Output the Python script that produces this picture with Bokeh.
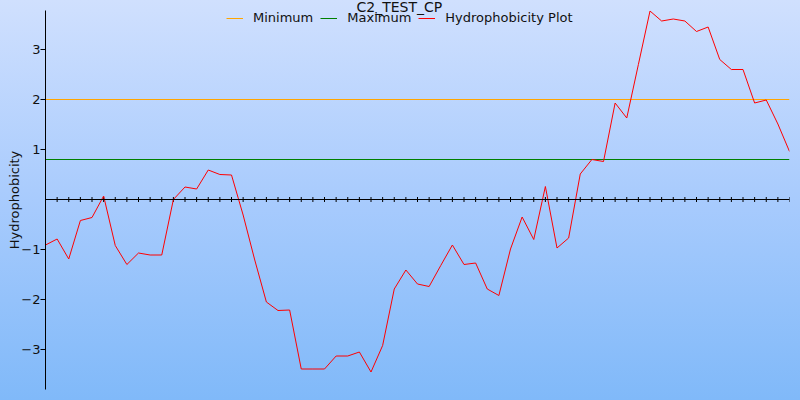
import math
from bokeh.plotting import figure
from bokeh.models import FixedTicker, Range1d, Span, Legend, LegendItem
from bokeh.embed import file_html
from bokeh.resources import INLINE

chart_title = "C2_TEST_CP"
y_axis_title = "Hydrophobicity"
series_names = ["Minimum", "Maximum", "Hydrophobicity Plot"]

positions = list(range(65))
hydrophobicity = [
    -0.91, -0.79, -1.19, -0.42, -0.36, 0.07, -0.92, -1.30, -1.07, -1.11,
    -1.11, 0.00, 0.25, 0.21, 0.59, 0.50, 0.49, -0.31, -1.21, -2.05,
    -2.22, -2.21, -3.39, -3.39, -3.39, -3.13, -3.13, -3.05, -3.45, -2.92,
    -1.79, -1.41, -1.69, -1.74, -1.32, -0.91, -1.30, -1.27, -1.79, -1.92,
    -0.99, -0.35, -0.80, 0.26, -0.97, -0.77, 0.51, 0.80, 0.76, 1.93,
    1.63, 2.70, 3.77, 3.57, 3.61, 3.57, 3.36, 3.45, 2.80, 2.60,
    2.60, 1.93, 1.99, 1.51, 0.96,
]
minimum_level = 2.0
maximum_level = 0.8
baseline_level = 0.0
y_ticks = [-3, -2, -1, 1, 2, 3]
y_lower = -3.80
y_upper = 3.78

FONT = "DejaVu Sans"
TEXT = "#111111"

p = figure(
    width=800, height=400, output_backend="svg", toolbar_location=None,
    title=chart_title,
    x_range=Range1d(positions[0], positions[-1]),
    y_range=Range1d(y_lower, y_upper),
    x_axis_location=None, y_axis_location="left",
    min_border_left=45, min_border_right=11, min_border_top=10, min_border_bottom=11,
)
p.background_fill_alpha = 0
p.border_fill_alpha = 0
p.outline_line_color = None
p.styles = {"background": "linear-gradient(180deg, #d0e0fe 0%, #a8cbfd 50%, #80b9f9 100%)"}
p.grid.grid_line_color = None

p.title.text_font = FONT
p.title.text_font_size = "14px"
p.title.text_font_style = "normal"
p.title.text_color = TEXT
p.title.align = "left"
p.title.offset = 311
p.title.standoff = -11
p.title.vertical_align = "middle"

yax = p.yaxis[0]
yax.ticker = FixedTicker(ticks=y_ticks)
yax.axis_label = y_axis_title
yax.axis_label_text_font = FONT
yax.axis_label_text_font_size = "13px"
yax.axis_label_text_font_style = "normal"
yax.axis_label_text_color = TEXT
yax.axis_label_standoff = -4
yax.major_label_text_font = FONT
yax.major_label_text_font_size = "13px"
yax.major_label_text_color = TEXT
yax.major_label_standoff = 0
yax.major_tick_in = 0
yax.major_tick_out = 5
yax.minor_tick_in = 0
yax.minor_tick_out = 0
yax.axis_line_color = "black"
yax.major_tick_line_color = "black"

# horizontal axis through zero with a tick at every position
p.add_layout(Span(location=baseline_level, dimension="width", line_color="black", line_width=1))
p.scatter(positions, [baseline_level] * len(positions), marker="dash", angle=math.pi / 2,
          size=5, line_color="black", line_width=1)

ends = [positions[0], positions[-1]]
r_min = p.line(ends, [minimum_level, minimum_level], line_color="#ffa500", line_width=1)
r_max = p.line(ends, [maximum_level, maximum_level], line_color="#008000", line_width=1)
r_hyd = p.line(positions, hydrophobicity, line_color="#ff0000", line_width=1)

series_legend = Legend(
    items=[LegendItem(label=series_names[0], renderers=[r_min]),
           LegendItem(label=series_names[1], renderers=[r_max]),
           LegendItem(label=series_names[2], renderers=[r_hyd])],
    orientation="horizontal", location=(181, 361.5),
    background_fill_alpha=0, border_line_color=None,
    label_text_font=FONT, label_text_font_size="13px", label_text_color=TEXT,
    glyph_width=17, label_standoff=10, spacing=7, padding=0, margin=0,
)
p.add_layout(series_legend)

open("out.html", "w").write(file_html(p, INLINE))
